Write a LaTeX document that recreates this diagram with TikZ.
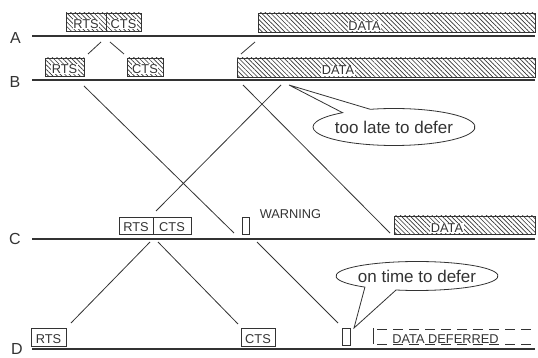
\documentclass[tikz,border=0pt]{standalone}
\usepackage{fontspec}
\setmainfont{Liberation Sans}
\usetikzlibrary{patterns.meta,calc}
\definecolor{ink}{HTML}{333333}
\newcommand\wbg[1]{{\setlength\fboxsep{0.6pt}\colorbox{white}{#1}}}
\begin{document}
\begin{tikzpicture}[x=1pt,y=-1pt,
  tl/.style={draw=ink, line width=1.1pt},
  conn/.style={draw=ink, line width=0.8pt},
  lab/.style={text=ink, inner sep=0, font=\fontsize{16}{18}\selectfont},
  txt/.style={text=ink, inner sep=0.6pt, font=\fontsize{12.8}{15}\selectfont},
  sbox/.style={draw=ink, line width=0.8pt, inner sep=0, minimum height=18pt,
    text height=13pt, text depth=0pt, text=ink, font=\fontsize{12.8}{15}\selectfont},
  hbox/.style={sbox, pattern={Lines[angle=-45,distance=3.2pt,line width=0.65pt]}, pattern color=ink},
  wbox/.style={sbox, fill=white},
  bub/.style={draw=ink, line width=0.8pt, fill=white},
  bubtext/.style={text=ink, inner sep=0, font=\fontsize{17}{19}\selectfont}]
\useasboundingbox (0,0) rectangle (538,358);

% station labels and timelines
\node[lab] (lA) at (15.5,37.5) {A};
\node[lab] (lB) at (15,82) {B};
\node[lab] (lC) at (15,239) {C};
\node[lab] (lD) at (17,349) {D};
\draw[tl] (32,36) -- (535,36);
\draw[tl] (32,80) -- (535,80);
\draw[tl] (32,239) -- (535,239);
\draw[tl] (32,349) -- (535,349);

% A
\node[hbox, minimum width=40pt] (aRTS) at (86,22) {\wbg{RTS}};
\node[hbox, minimum width=35pt] (aCTS) at (123.5,22) {\wbg{CTS}};
\node[hbox, minimum width=277pt, minimum height=19pt] (aDATA) at (396.5,22.5) {};
\node[txt, fill=white, anchor=base] (aDATAt) at (364.5,30.5) {DATA};

% B
\node[hbox, minimum width=39pt] (bRTS) at (64.5,67) {\wbg{RTS}};
\node[hbox, minimum width=36pt] (bCTS) at (145,67) {\wbg{CTS}};
\node[hbox, minimum width=298pt, minimum height=19pt] (bDATA) at (386,67.5) {};
\node[txt, fill=white, anchor=base] (bDATAt) at (338,75) {DATA};

% C
\node[wbox, minimum width=34pt, minimum height=17pt] (cRTS) at (136,225.5) {RTS};
\node[wbox, minimum width=38pt, minimum height=17pt] (cCTS) at (172,225.5) {CTS};
\node[wbox, minimum width=7pt, minimum height=17pt] (cW) at (245.5,225.5) {};
\node[txt, anchor=west] (warn) at (259,214.5) {WARNING};
\node[hbox, minimum width=141pt] (cDATA) at (464.5,225) {};
\node[txt, fill=white, anchor=base] (cDATAt) at (447,232.5) {DATA};

% D
\node[wbox, minimum width=35pt] (dRTS) at (48.5,337) {RTS};
\node[wbox, minimum width=34pt] (dCTS) at (258,337) {CTS};
\node[wbox, minimum width=8pt, minimum height=17pt] (dW) at (346,336.5) {};
\draw[conn] (373,328) -- (373,344);
\draw[conn, dash pattern=on 10pt off 6pt] (377,329) -- (535,329);
\draw[conn, dash pattern=on 10pt off 6pt] (377,344) -- (535,344);
\node[txt, anchor=base] (ddef) at (445.5,343) {DATA DEFERRED};

% connectors A -> B
\coordinate (p1a) at (101,42); \coordinate (p1b) at (88,54);
\coordinate (p2a) at (110,42); \coordinate (p2b) at (124,54);
\coordinate (p3a) at (241,54); \coordinate (p3b) at (255,42);
\draw[conn] (p1a) -- (p1b);
\draw[conn] (p2a) -- (p2b);
\draw[conn] (p3a) -- (p3b);

% connectors B -> C
\coordinate (q1a) at (84,86);  \coordinate (q1b) at (234,233);
\coordinate (q2a) at (243,85); \coordinate (q2b) at (390,233);
\coordinate (q3a) at (281,85); \coordinate (q3b) at (156,211);
\draw[conn] (q1a) -- (q1b);
\draw[conn] (q2a) -- (q2b);
\draw[conn] (q3a) -- (q3b);

% connectors C -> D
\coordinate (r1a) at (150,242); \coordinate (r1b) at (71,323);
\coordinate (r2a) at (158,242); \coordinate (r2b) at (238,324);
\coordinate (r3a) at (257,242); \coordinate (r3b) at (338,323);
\draw[conn] (r1a) -- (r1b);
\draw[conn] (r2a) -- (r2b);
\draw[conn] (r3a) -- (r3b);

% callout: too late to defer
\coordinate (lateC) at (394,127);
\coordinate (tipL) at (289,85);
\draw[bub] ($(lateC)+(253:81 and 18.5)$) arc[start angle=253, end angle=590.6, x radius=81, y radius=18.5] -- (tipL) -- cycle;
\node[bubtext] (late) at (lateC) {too late to defer};

% callout: on time to defer
\coordinate (onC) at (417,276);
\coordinate (tipO) at (354,328);
\draw[bub] ($(onC)+(130:81 and 14.5)$) arc[start angle=130, end angle=465, x radius=81, y radius=14.5] -- (tipO) -- cycle;
\node[bubtext] (ontime) at (onC) {on time to defer};
\end{tikzpicture}
\end{document}
